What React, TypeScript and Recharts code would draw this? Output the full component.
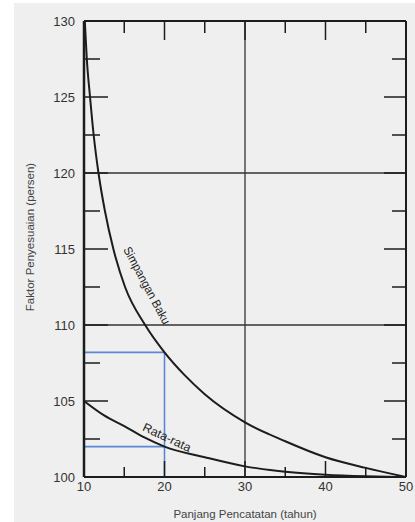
import { LineChart, Line, XAxis, YAxis, ReferenceLine, ReferenceDot, Label } from 'recharts'

// Simpangan Baku curve (reading off the scan)
const bakuX = [10.1, 10.35, 10.75, 11.2, 11.8, 12.6, 13.65, 15.1, 17.6, 20, 22.5, 25, 30, 35, 40, 45, 50]
const bakuY = [130, 127.5, 125, 122.5, 120, 117.5, 115, 112.5, 110, 108.2, 106.7, 105.45, 103.6, 102.35, 101.3, 100.6, 100]

// Rata-rata curve
const rataX = [10, 12.5, 15, 17.5, 20, 25, 30, 35, 40, 45, 50]
const rataY = [105, 104.05, 103.35, 102.6, 102, 101.3, 100.7, 100.35, 100.15, 100.05, 100]

const xTicks = [10, 15, 20, 25, 30, 35, 40, 45, 50]
const yTicks = [100, 102.5, 105, 107.5, 110, 112.5, 115, 117.5, 120, 122.5, 125, 127.5, 130]
const gridX = [30]
const gridY = [110, 120]

// blue reading lines at 20 tahun
const readX = 20
const readBaku = 108.2
const readRata = 102

const bakuData = bakuX.map((x, i) => ({ x, y: bakuY[i] }))
const rataData = rataX.map((x, i) => ({ x, y: rataY[i] }))

const INK = '#1c1c1c'
const BLUE = '#5a88d6'
const FONT = '"Liberation Sans", Arial, sans-serif'

const LeftTick = (props: any) => {
  const { x, y, payload } = props
  const major = payload.value % 5 === 0
  return (
    <g>
      <line x1={x} x2={x + (major ? 24 : 16)} y1={y} y2={y} stroke={INK} strokeWidth={1.5} />
      {major && (
        <text x={x - 9} y={y} dy={4.5} textAnchor="end" fontSize={13} fill="#333" fontFamily={FONT}>
          {payload.value}
        </text>
      )}
    </g>
  )
}

const RightTick = (props: any) => {
  const { x, y, payload } = props
  const major = payload.value % 5 === 0
  return <line x1={x} x2={x - (major ? 22 : 14)} y1={y} y2={y} stroke={INK} strokeWidth={1.5} />
}

const BottomTick = (props: any) => {
  const { x, y, payload } = props
  const major = payload.value % 10 === 0
  return (
    <g>
      <line x1={x} x2={x} y1={y} y2={y - (major ? 16 : 10)} stroke={INK} strokeWidth={1.5} />
      {major && (
        <text x={x} y={y + 14} textAnchor="middle" fontSize={13} fill="#333" fontFamily={FONT}>
          {payload.value}
        </text>
      )}
    </g>
  )
}

const TopTick = (props: any) => {
  const { x, y, payload } = props
  const major = payload.value % 10 === 0
  return <line x1={x} x2={x} y1={y} y2={y + (major ? 19 : 12)} stroke={INK} strokeWidth={1.5} />
}

const curveLabel = (text: string, angle: number, len: number) => (p: any) => {
  const vb = p.viewBox
  const cx = vb.x + (vb.width || 0) / 2
  const cy = vb.y + (vb.height || 0) / 2
  return (
    <text
      x={cx}
      y={cy}
      textAnchor="middle"
      dominantBaseline="central"
      fontSize={12}
      fill="#222"
      fontFamily={FONT}
      textLength={len}
      lengthAdjust="spacingAndGlyphs"
      transform={`rotate(${angle} ${cx} ${cy})`}
    >
      {text}
    </text>
  )
}

const yTitle = (p: any) => {
  const vb = p.viewBox
  const cx = vb.x + 16
  const cy = vb.y + vb.height / 2 - 12
  return (
    <text
      x={cx}
      y={cy}
      textAnchor="middle"
      dominantBaseline="central"
      fontSize={11.5}
      fill="#444"
      fontFamily={FONT}
      transform={`rotate(-90 ${cx} ${cy})`}
    >
      Faktor Penyesuaian (persen)
    </text>
  )
}

export default function App() {
  return (
    <div style={{ position: 'fixed', left: 14, top: 3, width: 401, height: 519, background: '#efefef' }}>
      <LineChart width={401} height={519} margin={{ top: 17, right: 8, bottom: 0, left: 0 }}>
        <XAxis
          type="number"
          dataKey="x"
          domain={[10, 50]}
          ticks={xTicks}
          interval={0}
          height={45}
          tickSize={0}
          tickMargin={0}
          tick={<BottomTick />}
          axisLine={{ stroke: INK, strokeWidth: 2 }}
          allowDataOverflow
        >
          <Label
            value="Panjang Pencatatan (tahun)"
            position="insideBottom"
            offset={4}
            style={{ fontSize: 11.5, fill: '#444', fontFamily: FONT }}
          />
        </XAxis>
        <XAxis
          xAxisId="top"
          orientation="top"
          type="number"
          dataKey="x"
          domain={[10, 50]}
          ticks={xTicks}
          interval={0}
          height={1}
          tickSize={0}
          tickMargin={0}
          tick={<TopTick />}
          axisLine={{ stroke: INK, strokeWidth: 2 }}
          allowDataOverflow
        />
        <YAxis
          type="number"
          domain={[100, 130]}
          ticks={yTicks}
          interval={0}
          width={70}
          tickSize={0}
          tickMargin={0}
          tick={<LeftTick />}
          axisLine={{ stroke: INK, strokeWidth: 2.5 }}
          allowDataOverflow
        >
          <Label content={yTitle} />
        </YAxis>
        <YAxis
          yAxisId="right"
          orientation="right"
          type="number"
          domain={[100, 130]}
          ticks={yTicks}
          interval={0}
          width={1}
          tickSize={0}
          tickMargin={0}
          tick={<RightTick />}
          axisLine={{ stroke: INK, strokeWidth: 2 }}
          allowDataOverflow
        />

        {gridY.map((v) => (
          <ReferenceLine key={'gy' + v} y={v} stroke="#333" strokeWidth={1.3} />
        ))}
        {gridX.map((v) => (
          <ReferenceLine key={'gx' + v} x={v} stroke="#333" strokeWidth={1.3} />
        ))}

        <ReferenceLine segment={[{ x: 10, y: readBaku }, { x: readX, y: readBaku }]} stroke={BLUE} strokeWidth={1.6} />
        <ReferenceLine segment={[{ x: 10, y: readRata }, { x: readX, y: readRata }]} stroke={BLUE} strokeWidth={1.6} />
        <ReferenceLine segment={[{ x: readX, y: 100 }, { x: readX, y: readBaku }]} stroke={BLUE} strokeWidth={1.6} />

        <Line data={bakuData} dataKey="y" type="monotone" stroke={INK} strokeWidth={2} dot={false} isAnimationActive={false} />
        <Line
          data={rataData}
          dataKey="y"
          xAxisId="top"
          yAxisId="right"
          type="monotone"
          stroke={INK}
          strokeWidth={2}
          dot={false}
          isAnimationActive={false}
        />

        <ReferenceDot x={17.8} y={112.6} r={1} fill="none" stroke="none" label={{ content: curveLabel('Simpangan Baku', 62, 86) }} />
        <ReferenceDot x={20.3} y={102.6} r={1} fill="none" stroke="none" label={{ content: curveLabel('Rata-rata', 25, 52) }} />
      </LineChart>
    </div>
  )
}
